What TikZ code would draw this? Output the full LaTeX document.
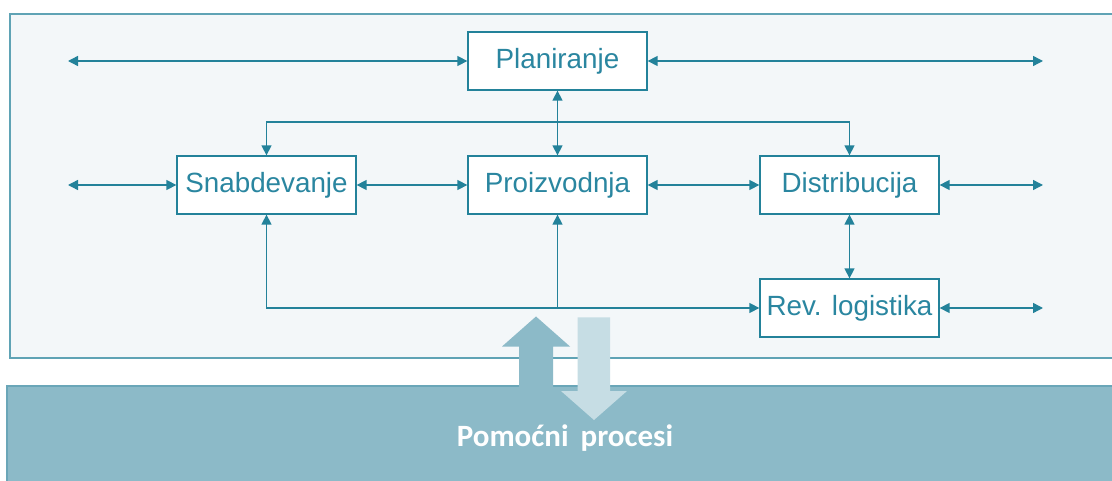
\documentclass[tikz,border=0pt]{standalone}
\usepackage{fontspec}
\setmainfont{Liberation Sans}
\newfontfamily\carlito{Carlito}
\usetikzlibrary{arrows.meta}
\definecolor{lineC}{HTML}{23829A}
\definecolor{textC}{HTML}{2A86A0}
\definecolor{panelC}{HTML}{F3F7F9}
\definecolor{panelB}{HTML}{5FA3B5}
\definecolor{baseC}{HTML}{8CBAC8}
\definecolor{baseB}{HTML}{6AA6B8}
\definecolor{downC}{HTML}{C6DDE4}
\tikzset{
  procbox/.style={draw=lineC, line width=1.3pt, fill=white, minimum width=179pt, minimum height=58pt, inner sep=0pt, text=textC, font=\fontsize{27.8}{32}\selectfont},
  conn/.style={draw=lineC, line width=1.4pt},
  tip/.style={-{Triangle[length=10pt,width=10pt]}},
  tips/.style={{Triangle[length=10pt,width=10pt]}-{Triangle[length=10pt,width=10pt]}},
}
\begin{document}
\begin{tikzpicture}[x=1pt,y=-1pt]
\useasboundingbox (0,0) rectangle (1112,481);
\fill[white] (0,0) rectangle (1112,481);
% panels
\draw[draw=panelB, fill=panelC, line width=1.3pt] (10,14) rectangle (1120,358);
\draw[draw=baseB, fill=baseC, line width=1.3pt] (7,386) rectangle (1120,490);
% nodes
\node[procbox] (plan) at (557.5,61) {Planiranje};
\node[procbox] (snab) at (266.5,185) {Snabdevanje};
\node[procbox] (proi) at (557.5,185) {Proizvodnja};
\node[procbox] (dist) at (849.5,185) {Distribucija};
\node[procbox] (rev) at (849.5,308) {Rev. logistika};
% free ends
\coordinate (l1) at (68,61);
\coordinate (r1) at (1043,61);
\coordinate (l2) at (68,185);
\coordinate (r2) at (1043,185);
\coordinate (r3) at (1043,308);
\coordinate (top) at (557.5,122);
\coordinate (bot) at (557.5,308);
% connectors
\draw[conn,tips] (l1) -- (plan);
\draw[conn,tips] (plan) -- (r1);
\draw[conn,tips] (l2) -- (snab);
\draw[conn,tips] (snab) -- (proi);
\draw[conn,tips] (proi) -- (dist);
\draw[conn,tips] (dist) -- (r2);
\draw[conn,tips] (rev) -- (r3);
\draw[conn,tips] (plan) -- (proi);
\draw[conn,tips] (dist) -- (rev);
\draw[conn,tip] (top) -| (snab.north);
\draw[conn,tip] (top) -| (dist.north);
\draw[conn,tip] (bot) -| (snab.south);
\draw[conn,tip] (bot) -- (rev.west);
\draw[conn,tip] (bot) -- (proi.south);
% big arrows
\fill[baseC] (519,390) -- (519,346.5) -- (502,346.5) -- (536,316.5) -- (570,346.5) -- (553,346.5) -- (553,390) -- cycle;
\fill[downC] (577.5,317.5) -- (610,317.5) -- (610,391) -- (627,391) -- (594,420) -- (561,391) -- (577.5,391) -- cycle;
\node[text=white, font=\carlito\bfseries\fontsize{31}{36}\selectfont] (pom) at (565,438) {Pomoćni\hspace{12pt}procesi};
\end{tikzpicture}
\end{document}
